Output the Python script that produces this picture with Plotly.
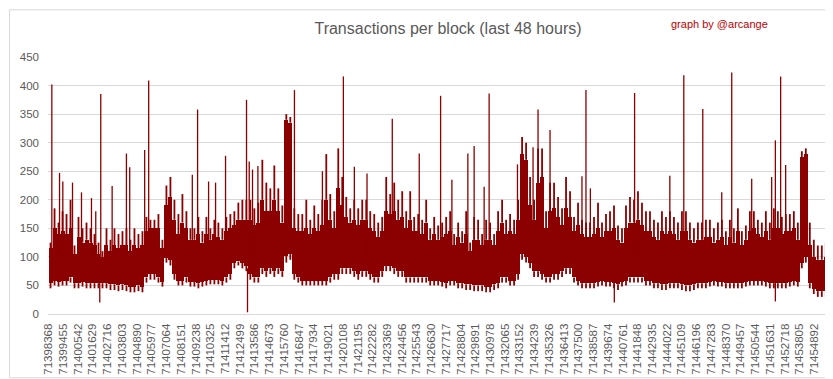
import plotly.graph_objects as go

# ---- data ----
first_block = 71398368
seg_blocks = 295  # blocks per sampled column

# highest value reached in each column
seg_hi = [125,185,160,180,175,200,120,170,150,160,
          150,140,125,110,150,130,150,140,145,150,
          130,150,140,145,170,165,165,175,130,225,
          240,200,175,210,180,150,150,170,145,170,
          150,165,160,150,170,175,180,195,200,200,
          200,185,195,270,230,220,260,220,190,350,
          345,185,175,175,200,165,190,175,200,280,
          210,180,290,240,205,185,200,185,200,200,
          180,175,160,170,240,210,230,200,215,180,
          215,170,175,165,200,150,170,155,160,170,
          180,140,160,145,180,125,170,165,140,165,
          160,140,180,200,165,175,165,200,310,300,
          240,200,290,290,180,230,230,205,185,240,
          215,170,195,165,160,160,170,195,160,175,
          180,190,155,150,190,205,200,215,195,180,
          180,165,160,180,170,180,170,160,180,180,
          160,150,160,160,165,165,150,160,165,145,
          165,150,185,145,155,180,180,165,160,180,
          160,185,180,170,175,175,180,160,285,290,
          160,130,120,120,125]

# top of the dense part of each column
seg_body_hi = [115,150,140,145,140,150,105,135,125,130,
               125,120,105,100,120,110,120,115,120,120,
               110,120,115,120,145,150,150,150,115,190,
               205,165,140,160,150,130,130,140,125,140,
               130,140,135,130,145,150,155,165,165,165,
               165,155,160,200,180,180,200,180,160,340,
               335,150,145,145,150,140,150,145,155,200,
               165,150,220,190,170,160,165,155,165,165,
               150,145,135,145,180,175,180,165,170,150,
               165,145,145,140,160,130,140,130,135,140,
               145,120,135,125,140,110,130,130,120,130,
               130,120,145,160,140,145,140,165,280,270,
               190,165,230,240,150,180,185,170,155,185,
               170,145,155,140,135,135,140,150,135,145,
               145,150,130,125,150,160,160,165,155,145,
               145,135,130,145,140,145,140,130,145,145,
               130,125,130,130,135,135,125,130,135,120,
               135,125,145,120,130,145,150,140,135,145,
               130,150,150,140,145,145,150,130,275,280,
               120,100,95,95,100]

# bottom of the dense part of each column
seg_body_lo = [55,58,56,58,58,64,54,54,56,54,
               54,54,54,54,54,52,52,50,52,50,
               48,48,50,48,64,70,70,64,56,98,
               95,70,58,58,64,56,56,54,56,58,
               60,60,60,58,64,70,90,92,90,84,
               70,64,64,80,75,80,75,80,75,102,
               105,70,64,58,58,58,58,58,58,58,
               64,70,70,80,80,80,75,70,75,75,
               70,64,64,75,84,84,80,75,75,64,
               64,64,64,64,64,58,58,58,56,54,
               58,58,54,54,52,52,50,50,50,48,
               48,52,54,64,64,58,58,70,105,100,
               90,75,75,70,64,64,70,70,75,80,
               80,64,58,54,54,54,54,56,58,56,
               56,54,52,56,58,64,64,64,64,58,
               58,54,54,52,52,54,54,54,52,50,
               50,52,54,54,54,56,58,56,56,54,
               54,54,54,54,56,58,58,58,58,56,
               54,54,54,54,54,56,58,56,90,100,
               54,44,40,40,40]

# lowest value reached in each column
seg_lo = [45,50,48,50,50,55,45,45,48,45,
          45,45,45,45,45,42,42,40,42,40,
          38,38,40,38,55,60,60,55,48,90,
          85,60,50,50,55,48,48,45,48,50,
          52,52,52,50,55,60,80,85,80,75,
          60,55,55,70,65,70,65,70,65,90,
          95,60,55,50,50,50,50,50,50,50,
          55,60,60,70,70,70,65,60,65,65,
          60,55,55,65,75,75,70,65,65,55,
          55,55,55,55,55,50,50,50,48,45,
          50,50,45,45,42,42,40,40,40,38,
          38,42,45,55,55,50,50,60,95,90,
          80,65,65,60,55,55,60,60,65,70,
          70,55,50,45,45,45,45,48,50,48,
          48,45,42,48,50,55,55,55,55,50,
          50,45,45,42,42,45,45,45,42,40,
          40,42,45,45,45,48,50,48,48,45,
          45,45,45,45,48,50,50,50,50,48,
          45,45,45,45,45,48,50,48,80,90,
          45,35,30,30,30]

spike_blocks = [71398611,71399179,71399422,71400137,71400800,71401537,71401854,
                71402223,71403063,71404117,71404360,71405465,71405760,71408981,
                71409371,71410182,71410698,71411435,71412983,71413182,71413425,
                71413823,71416520,71418584,71420132,71420942,71421878,71423743,
                71425733,71427310,71428143,71429322,71429786,71430523,71430892,
                71432985,71434135,71434503,71435388,71437746,71438041,71438365,
                71441630,71444232,71445263,71446664,71448064,71448801,71450275,
                71451749,71452022,71452412,71452781]
spike_vals = [402,247,232,230,213,203,180,
              385,224,281,257,287,409,244,
              358,232,230,277,375,267,253,
              259,392,250,416,258,246,342,
              281,382,235,281,294,223,386,
              262,292,358,322,241,392,220,
              387,242,418,359,213,423,237,
              240,304,416,261]

dip_blocks = [71402149, 71413056, 71440134, 71452022]
dip_vals = [20, 3, 20, 22]

tick_step = 1087
tick_count = 53
tick_vals = [first_block + i * tick_step for i in range(tick_count)]
tick_text = [str(v) for v in tick_vals]

# ---- figure ----
RED = "#8b0000"
GRAY = "#595959"

n = len(seg_hi)
seg_x = [first_block + (k + 0.5) * seg_blocks for k in range(n)]

fig = go.Figure()
# dense body of each column
fig.add_trace(go.Bar(x=seg_x,
                     y=[h - l for h, l in zip(seg_body_hi, seg_body_lo)],
                     base=seg_body_lo, width=seg_blocks,
                     marker=dict(color=RED, line=dict(width=0)),
                     hoverinfo="skip", showlegend=False))

# thin extremes of each column (max / min strokes)
fx, fy = [], []
for k in range(n):
    x = seg_x[k]
    fx += [x, x, None, x, x, None]
    fy += [seg_body_hi[k], seg_hi[k], None, seg_lo[k], seg_body_lo[k], None]
fig.add_trace(go.Scatter(x=fx, y=fy, mode="lines",
                         line=dict(color=RED, width=1.8),
                         hoverinfo="skip", showlegend=False))

sx, sy = [], []
for b, v in zip(spike_blocks, spike_vals):
    sx += [b, b, None]
    sy += [100, v, None]
for b, v in zip(dip_blocks, dip_vals):
    sx += [b, b, None]
    sy += [80, v, None]
fig.add_trace(go.Scatter(x=sx, y=sy, mode="lines",
                         line=dict(color=RED, width=1.3),
                         hoverinfo="skip", showlegend=False))

W, H = 833, 379
ml, mr, mt, mb = 39, 15, 49, 66
pw, ph = W - ml - mr, H - mt - mb

fig.update_layout(
    width=W, height=H,
    margin=dict(l=ml, r=mr, t=mt, b=mb),
    paper_bgcolor="white", plot_bgcolor="white",
    font=dict(family="Liberation Sans, Arial, sans-serif", color=GRAY),
    bargap=0,
    title=dict(text="Transactions per block (last 48 hours)",
               x=440 / W, xanchor="center", y=1 - 20 / H, yanchor="middle",
               font=dict(size=16, color=GRAY)),
    xaxis=dict(range=[first_block - 40, 71455760],
               tickmode="array", tickvals=tick_vals, ticktext=tick_text,
               tickangle=-90, tickfont=dict(size=11.5, color=GRAY),
               showgrid=False, zeroline=False,
               showline=True, linecolor="#d9d9d9", linewidth=1,
               ticks="", ticklabelstandoff=4),
    yaxis=dict(range=[0, 450], tickmode="linear", tick0=0, dtick=50,
               tickfont=dict(size=11.5, color=GRAY),
               showgrid=True, gridcolor="#d9d9d9", gridwidth=1,
               zeroline=False, showline=False, ticks="",
               ticklabelstandoff=8),
    shapes=[dict(type="rect", xref="paper", yref="paper",
                 x0=(0.5 - ml) / pw, x1=(W - 0.5 - ml) / pw,
                 y0=-(mb - 0.5) / ph, y1=(ph + mt - 0.5) / ph,
                 line=dict(color="#d9d9d9", width=1), layer="below")],
    annotations=[dict(text="graph by @arcange", xref="paper", yref="paper",
                      x=(711 - ml) / pw, y=(H - 15 - mb) / ph,
                      xanchor="center", yanchor="middle", showarrow=False,
                      font=dict(size=11, color="#c00000"))],
)

fig.write_html("out.html")
